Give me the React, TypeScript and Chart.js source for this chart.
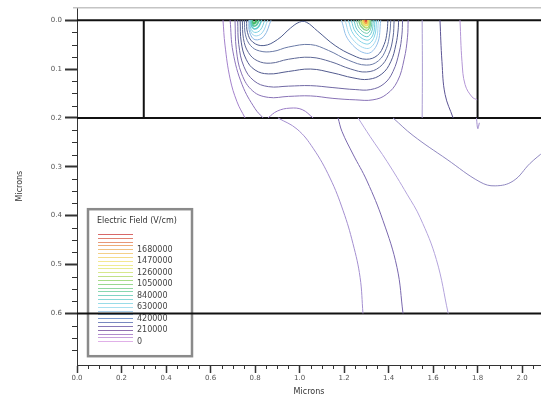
import React, { useEffect, useRef } from "react";
import { Chart, registerables } from "chart.js";

Chart.register(...registerables);

// ---------- axes ----------
const xRange = [0, 2.085];
const yRange = [-0.0265, 0.7055];
const xTicks = [0, 0.2, 0.4, 0.6, 0.8, 1.0, 1.2, 1.4, 1.6, 1.8, 2.0];
const yTicks = [0, 0.1, 0.2, 0.3, 0.4, 0.5, 0.6];
const xMinorTicks = [0.05, 0.1, 0.15, 0.25, 0.3, 0.35, 0.45, 0.5, 0.55, 0.65, 0.7, 0.75, 0.85, 0.9, 0.95, 1.05, 1.1, 1.15, 1.25, 1.3, 1.35, 1.45, 1.5, 1.55, 1.65, 1.7, 1.75, 1.85, 1.9, 1.95, 2.05];
const yMinorTicks = [0.025, 0.05, 0.075, 0.125, 0.15, 0.175, 0.225, 0.25, 0.275, 0.325, 0.35, 0.375, 0.425, 0.45, 0.475, 0.525, 0.55, 0.575, 0.625, 0.65, 0.675];

// ---------- device structure ----------
const layerDepths = [0, 0.2, 0.6];
const gateEdges = [0.3, 1.8];
const gateBottom = 0.2;

// ---------- legend ----------
const legendTitle = "Electric Field (V/cm)";
const legendLabels = ["0", "210000", "420000", "630000", "840000", "1050000", "1260000", "1470000", "1680000"];
const legendColors = [
  "#e0b0e8", "#c8a0dc", "#b08ccc", "#9070b0", "#8878b8", "#7888c0", "#7898d0", "#90b8e0",
  "#a8d0ec", "#a8e0f0", "#98dce8", "#88d8d8", "#80d4c4", "#88d8b0", "#90d8a0", "#98d890",
  "#a8dc88", "#c0e088", "#d8e88c", "#e8ec90", "#f0ec90", "#f4e890", "#f4dc88", "#f4d088",
  "#f0c080", "#ecac78", "#e89878", "#e08070", "#d86868",
];

// ---------- contour lines (x, depth) in microns ----------
const oxideLeftA = [[0.656, 0], [0.665, 0.051], [0.688, 0.12], [0.719, 0.167], [0.755, 0.2]];
const oxideLeftB = [[0.688, 0], [0.701, 0.065], [0.742, 0.132], [0.8, 0.181], [0.836, 0.2]];
const oxideDome = [[0.858, 0.2], [0.9, 0.186], [0.957, 0.18], [1.012, 0.183], [1.061, 0.2]];

const wrap0 = [[0.71, 0], [0.716, 0.06], [0.74, 0.11], [0.79, 0.145], [0.86, 0.158], [0.95, 0.156], [1.05, 0.155], [1.15, 0.16], [1.25, 0.163], [1.33, 0.163], [1.39, 0.152], [1.44, 0.125], [1.47, 0.08], [1.485, 0.035], [1.488, 0]];
const wrap1 = [[0.722, 0], [0.727, 0.05], [0.75, 0.095], [0.795, 0.124], [0.86, 0.136], [0.95, 0.135], [1.05, 0.134], [1.15, 0.138], [1.25, 0.142], [1.32, 0.142], [1.38, 0.13], [1.42, 0.105], [1.448, 0.065], [1.46, 0.03], [1.463, 0]];
const wrap2 = [[0.733, 0], [0.738, 0.045], [0.76, 0.08], [0.8, 0.102], [0.86, 0.11], [0.95, 0.105], [1.05, 0.1], [1.15, 0.108], [1.24, 0.118], [1.31, 0.121], [1.37, 0.11], [1.41, 0.085], [1.433, 0.05], [1.443, 0.02], [1.445, 0]];
const wrap3 = [[0.743, 0], [0.748, 0.038], [0.77, 0.066], [0.81, 0.083], [0.87, 0.088], [0.95, 0.08], [1.05, 0.076], [1.14, 0.085], [1.23, 0.1], [1.3, 0.106], [1.36, 0.096], [1.4, 0.07], [1.42, 0.035], [1.425, 0]];
const wrap4 = [[0.752, 0], [0.757, 0.03], [0.78, 0.052], [0.82, 0.063], [0.88, 0.064], [0.95, 0.055], [1.05, 0.05], [1.13, 0.062], [1.22, 0.082], [1.3, 0.092], [1.355, 0.083], [1.39, 0.058], [1.405, 0.028], [1.41, 0]];
const wrap5 = [[0.762, 0], [0.766, 0.025], [0.79, 0.045], [0.84, 0.052], [0.9, 0.04], [0.96, 0.016], [1.0, 0.004], [1.03, 0.004], [1.08, 0.022], [1.16, 0.052], [1.24, 0.072], [1.3, 0.08], [1.35, 0.072], [1.38, 0.05], [1.393, 0.025], [1.397, 0]];

const leftPeak0 = [[0.772, 0], [0.776, 0.025], [0.8, 0.04], [0.84, 0.033], [0.872, 0]];
const leftPeak1 = [[0.775, 0], [0.778, 0.02], [0.799, 0.032], [0.832, 0.026], [0.857, 0]];
const leftPeak2 = [[0.778, 0], [0.78, 0.016], [0.798, 0.025], [0.824, 0.02], [0.844, 0]];
const leftPeak3 = [[0.781, 0], [0.783, 0.011], [0.796, 0.018], [0.815, 0.014], [0.83, 0]];
const leftPeak4 = [[0.784, 0], [0.785, 0.007], [0.795, 0.012], [0.808, 0.009], [0.818, 0]];
const leftPeak5 = [[0.787, 0], [0.788, 0.004], [0.794, 0.007], [0.801, 0.005], [0.807, 0]];

const rightPeak0 = [[1.188, 0], [1.222, 0.042], [1.302, 0.068], [1.349, 0.049], [1.365, 0]];
const rightPeak1 = [[1.204, 0], [1.233, 0.036], [1.302, 0.058], [1.342, 0.042], [1.355, 0]];
const rightPeak2 = [[1.219, 0], [1.244, 0.03], [1.302, 0.049], [1.335, 0.035], [1.347, 0]];
const rightPeak3 = [[1.232, 0], [1.253, 0.025], [1.302, 0.041], [1.33, 0.03], [1.339, 0]];
const rightPeak4 = [[1.244, 0], [1.261, 0.021], [1.302, 0.034], [1.324, 0.024], [1.332, 0]];
const rightPeak5 = [[1.255, 0], [1.269, 0.017], [1.302, 0.027], [1.319, 0.019], [1.326, 0]];
const rightPeak6 = [[1.265, 0], [1.276, 0.013], [1.301, 0.021], [1.315, 0.015], [1.32, 0]];
const rightPeak7 = [[1.274, 0], [1.282, 0.01], [1.301, 0.016], [1.312, 0.012], [1.315, 0]];
const rightPeak8 = [[1.282, 0], [1.287, 0.007], [1.301, 0.011], [1.308, 0.008], [1.31, 0]];
const rightPeak9 = [[1.288, 0], [1.292, 0.0045], [1.3, 0.007], [1.305, 0.005], [1.307, 0]];
const rightPeak10 = [[1.294, 0], [1.296, 0.0022], [1.3, 0.0035], [1.302, 0.0025], [1.303, 0]];

const oxideRight1 = [[1.551, 0], [1.552, 0.1], [1.551, 0.2]];
const oxideRight2 = [[1.631, 0], [1.64, 0.085], [1.654, 0.152], [1.69, 0.2]];
const oxideRight3 = [[1.721, 0], [1.73, 0.085], [1.744, 0.132], [1.775, 0.157], [1.798, 0.163]];
const edgeKink = [[1.795, 0.2], [1.801, 0.222], [1.808, 0.21]];

const bulk1 = [[0.903, 0.2], [0.989, 0.223], [1.061, 0.262], [1.137, 0.323], [1.196, 0.39], [1.24, 0.457], [1.272, 0.526], [1.285, 0.6]];
const bulk2 = [[1.173, 0.2], [1.191, 0.228], [1.24, 0.274], [1.303, 0.329], [1.375, 0.41], [1.438, 0.506], [1.465, 0.6]];
const bulk3 = [[1.263, 0.2], [1.317, 0.238], [1.393, 0.289], [1.483, 0.356], [1.542, 0.404], [1.615, 0.49], [1.668, 0.6]];
const bulkValley = [[1.42, 0.2], [1.51, 0.236], [1.663, 0.285], [1.811, 0.331], [1.879, 0.339], [1.96, 0.329], [2.036, 0.293], [2.1, 0.268]];

const contourLines = [
  oxideLeftA, oxideLeftB, oxideDome,
  wrap0, wrap1, wrap2, wrap3, wrap4, wrap5,
  leftPeak0, leftPeak1, leftPeak2, leftPeak3, leftPeak4, leftPeak5,
  rightPeak0, rightPeak1, rightPeak2, rightPeak3, rightPeak4, rightPeak5, rightPeak6, rightPeak7, rightPeak8, rightPeak9, rightPeak10,
  oxideRight1, oxideRight2, oxideRight3, edgeKink,
  bulk1, bulk2, bulk3, bulkValley,
];
const contourColors = [
  "#a482cc", "#8e74bc", "#9a7cc6",
  "#8872b6", "#7068a4", "#525a8e", "#5e6896", "#6a7aa6", "#4e5c8e",
  "#8cb8e4", "#98d4ec", "#78d0e0", "#60c8cc", "#5cc8a0", "#40b860",
  "#94c0ea", "#a0d8f0", "#84d4e8", "#70cede", "#64c8cc", "#6ccbb0", "#84d08c", "#b4dc70", "#eee060", "#f0a850", "#e04838",
  "#aa9cd2", "#5c5494", "#b496d6", "#a08ccc",
  "#a48fd0", "#7a68ae", "#b4a4dc", "#9088c0",
];
const contourWidths = [
  1, 1, 1,
  1, 1, 1, 1, 1, 1,
  1, 1, 1, 1.5, 1.8, 2.2,
  1, 1, 1, 1, 1, 1, 1.3, 1.5, 1.8, 2, 2.4,
  1, 1, 1, 1,
  1, 1, 1, 1,
];

const FONT = "'DejaVu Sans', Verdana, sans-serif";

const decorPlugin = {
  id: "decor",
  beforeDatasetsDraw(chart: any) {
    const { ctx, chartArea } = chart;
    const bx = chartArea.left + 11;
    const by = chartArea.top + 202;
    const bw = 104;
    const bh = 147;
    ctx.save();
    ctx.fillStyle = "#ffffff";
    ctx.fillRect(bx, by, bw, bh);
    ctx.strokeStyle = "#8a8a8a";
    ctx.lineWidth = 2.5;
    ctx.strokeRect(bx, by, bw, bh);
    ctx.font = `8px ${FONT}`;
    ctx.fillStyle = "#333";
    ctx.textBaseline = "middle";
    ctx.textAlign = "left";
    ctx.fillText(legendTitle, bx + 9, by + 12);
    const step = 3.83;
    const baseY = by + 132;
    legendColors.forEach((c, i) => {
      const ly = Math.round(baseY - i * step) + 0.5;
      ctx.strokeStyle = c;
      ctx.lineWidth = 1;
      ctx.beginPath();
      ctx.moveTo(bx + 10, ly);
      ctx.lineTo(bx + 45, ly);
      ctx.stroke();
    });
    ctx.fillStyle = "#444";
    legendLabels.forEach((t, j) => {
      ctx.fillText(t, bx + 49, baseY - 3 * j * step + 0.5);
    });
    ctx.restore();
  },
  afterDraw(chart: any) {
    const { ctx, chartArea, scales } = chart;
    const xs = scales.x;
    const ys = scales.y;
    ctx.save();
    ctx.strokeStyle = "#333";
    ctx.lineWidth = 1;
    xMinorTicks.forEach((v) => {
      const px = Math.round(xs.getPixelForValue(v)) + 0.5;
      ctx.beginPath();
      ctx.moveTo(px, chartArea.bottom);
      ctx.lineTo(px, chartArea.bottom + 4);
      ctx.stroke();
    });
    yMinorTicks.forEach((v) => {
      const py = Math.round(ys.getPixelForValue(v)) + 0.5;
      ctx.beginPath();
      ctx.moveTo(chartArea.left - 5, py);
      ctx.lineTo(chartArea.left, py);
      ctx.stroke();
    });
    ctx.strokeStyle = "#c4c4c4";
    ctx.lineWidth = 1.5;
    ctx.beginPath();
    ctx.moveTo(chartArea.left - 4, chartArea.top + 0.5);
    ctx.lineTo(chartArea.right, chartArea.top + 0.5);
    ctx.stroke();
    ctx.restore();
  },
};

export default function App() {
  const ref = useRef<HTMLCanvasElement | null>(null);

  useEffect(() => {
    if (!ref.current) return;
    const toPts = (arr: number[][]) => arr.map(([x, y]) => ({ x, y }));

    const datasets: any[] = [];
    contourLines.forEach((line, i) => {
      datasets.push({
        data: toPts(line),
        borderColor: contourColors[i],
        borderWidth: contourWidths[i],
        showLine: true,
        pointRadius: 0,
        tension: 0.4,
        fill: false,
      });
    });
    layerDepths.forEach((d) => {
      datasets.push({
        data: [{ x: xRange[0], y: d }, { x: xRange[1] + 0.1, y: d }],
        borderColor: "#111",
        borderWidth: 2,
        showLine: true,
        pointRadius: 0,
        tension: 0,
      });
    });
    gateEdges.forEach((g) => {
      datasets.push({
        data: [{ x: g, y: 0 }, { x: g, y: gateBottom }],
        borderColor: "#111",
        borderWidth: 2,
        showLine: true,
        pointRadius: 0,
        tension: 0,
      });
    });

    const chart = new Chart(ref.current, {
      type: "scatter",
      data: { datasets },
      options: {
        animation: false,
        responsive: false,
        devicePixelRatio: 1,
        layout: { padding: { top: 5, right: 0, bottom: 0, left: 0 } },
        plugins: { legend: { display: false }, tooltip: { enabled: false } },
        font: { family: FONT },
        scales: {
          x: {
            type: "linear",
            position: "bottom",
            min: xRange[0],
            max: xRange[1],
            afterBuildTicks: (s: any) => {
              s.ticks = xTicks.map((v) => ({ value: v }));
            },
            afterFit: (s: any) => {
              s.height = 33;
            },
            ticks: {
              callback: (v: any) => Number(v).toFixed(1),
              font: { size: 7, family: FONT },
              color: "#555",
              padding: 1,
              maxRotation: 0,
              autoSkip: false,
            },
            grid: { drawOnChartArea: false, tickLength: 8, tickWidth: 1.5, tickColor: "#333" },
            border: { color: "#333", width: 1 },
            title: {
              display: true,
              text: "Microns",
              font: { size: 8, family: FONT },
              color: "#333",
              padding: { top: 0, bottom: 1 },
            },
          },
          y: {
            type: "linear",
            reverse: true,
            min: yRange[0],
            max: yRange[1],
            afterBuildTicks: (s: any) => {
              s.ticks = yTicks.map((v) => ({ value: v }));
            },
            afterFit: (s: any) => {
              s.width = 77;
            },
            ticks: {
              callback: (v: any) => Number(v).toFixed(1),
              font: { size: 7, family: FONT },
              color: "#555",
              padding: 3,
              autoSkip: false,
            },
            grid: { drawOnChartArea: false, tickLength: 12, tickWidth: 2, tickColor: "#333" },
            border: { color: "#333", width: 1 },
            title: {
              display: true,
              text: "Microns",
              font: { size: 8, family: FONT },
              color: "#333",
              padding: { top: 15, bottom: 0 },
            },
          },
        },
      } as any,
      plugins: [decorPlugin],
    });
    return () => chart.destroy();
  }, []);

  return (
    <div style={{ position: "fixed", left: 0, top: 0, width: 541, height: 398, background: "#fff" }}>
      <canvas ref={ref} width={541} height={398} style={{ display: "block" }} />
    </div>
  );
}
